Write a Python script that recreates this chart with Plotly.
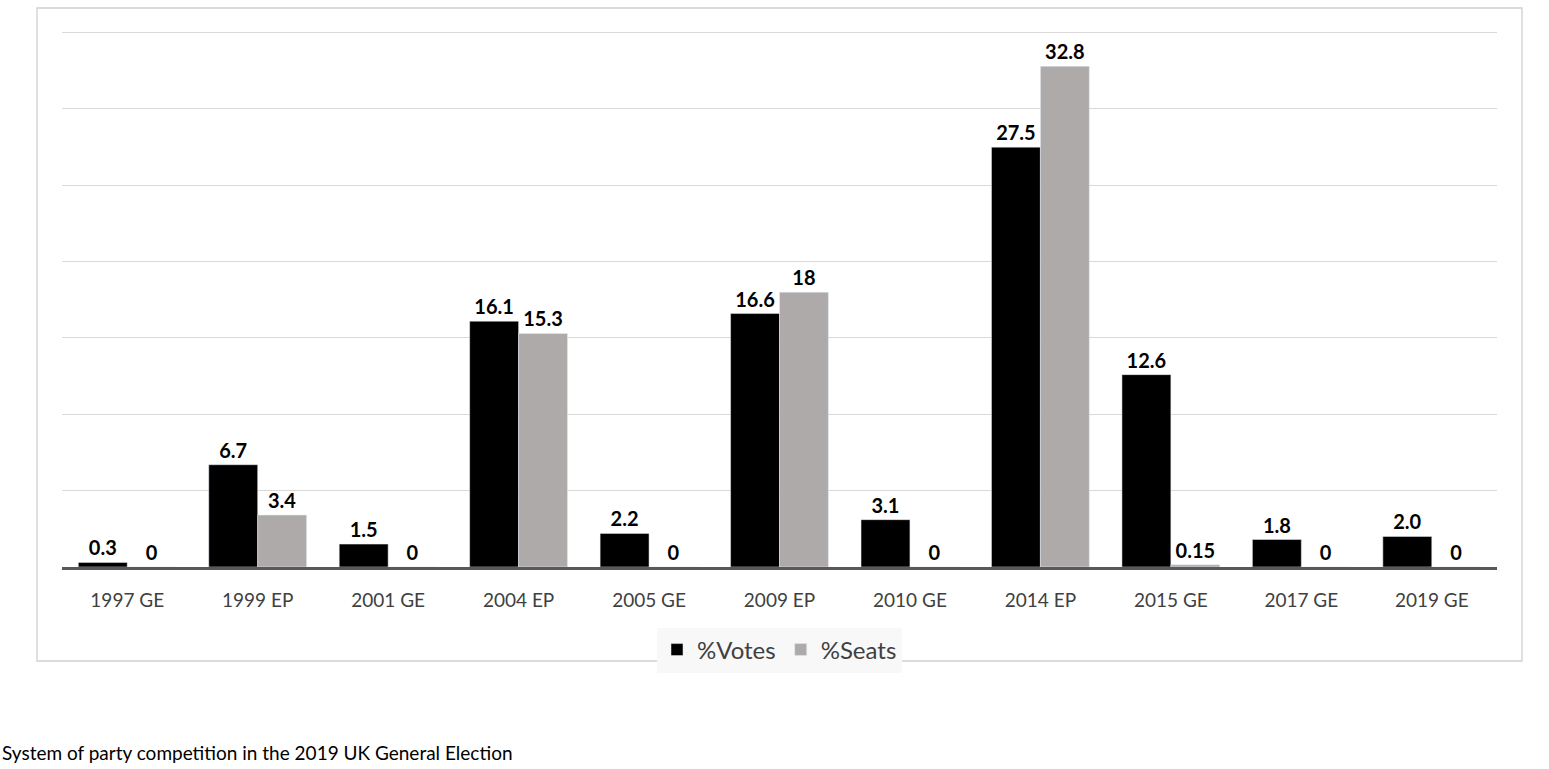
import plotly.graph_objects as go

categories = ["1997 GE", "1999 EP", "2001 GE", "2004 EP", "2005 GE", "2009 EP",
              "2010 GE", "2014 EP", "2015 GE", "2017 GE", "2019 GE"]
votes = [0.3, 6.7, 1.5, 16.1, 2.2, 16.6, 3.1, 27.5, 12.6, 1.8, 2.0]
seats = [0, 3.4, 0, 15.3, 0, 18, 0, 32.8, 0.15, 0, 0]
votes_labels = ["0.3", "6.7", "1.5", "16.1", "2.2", "16.6", "3.1", "27.5", "12.6", "1.8", "2.0"]
seats_labels = ["0", "3.4", "0", "15.3", "0", "18", "0", "32.8", "0.15", "0", "0"]
caption = "System of party competition in the 2019 UK General Election"

W, H = 1549, 769
L, R, T, B = 62, 52, 25, 202
pw, ph = W - L - R, H - T - B

def px_x(x):
    return (x - L) / pw

def px_y(y):
    return (H - B - y) / ph

label_font = dict(family="Lato", size=20, color="#000000", weight="bold")

fig = go.Figure()
fig.add_trace(go.Bar(
    x=categories, y=votes, name="%Votes", marker_color="#000000",
    text=votes_labels, textposition="outside", textfont=label_font,
    cliponaxis=False,
))
fig.add_trace(go.Bar(
    x=categories, y=seats, name="%Seats", marker_color="#aeaaaa",
    text=seats_labels, textposition="outside", textfont=label_font,
    cliponaxis=False,
))

fig.update_layout(
    width=W, height=H,
    margin=dict(l=L, r=R, t=T, b=B, pad=0),
    paper_bgcolor="white", plot_bgcolor="white",
    barmode="group", bargap=0.25, bargroupgap=0,
    font=dict(family="Lato", color="#404040"),
    showlegend=True,
    legend=dict(orientation="h", x=0.5, xanchor="center", y=px_y(650), yanchor="middle",
                bgcolor="#f8f8f8", font=dict(size=24, color="#404040"),
                itemwidth=30, traceorder="normal", borderwidth=0),
    xaxis=dict(showgrid=False, showline=True, linecolor="#595959", linewidth=2.5,
               tickfont=dict(size=19, color="#404040"), ticks="",
               ticklabelstandoff=14, fixedrange=True),
    yaxis=dict(range=[0, 35.5], dtick=5, showgrid=True, gridcolor="#d9d9d9", gridwidth=1.3,
               showticklabels=False, zeroline=False, showline=False, fixedrange=True),
)

fig.add_shape(type="rect", xref="paper", yref="paper",
              x0=px_x(37), x1=px_x(1522), y0=px_y(661), y1=px_y(8),
              line=dict(color="#d0d0d0", width=1.3), fillcolor="rgba(0,0,0,0)", layer="below")

fig.add_annotation(text=caption, xref="paper", yref="paper",
                   x=px_x(0), y=px_y(766), xanchor="left", yanchor="bottom",
                   showarrow=False, font=dict(family="Lato", size=19, color="#000000"))

fig.write_html("out.html", config={"displayModeBar": False},
               post_script="document.body.style.margin='0';document.body.style.overflow='hidden';")
